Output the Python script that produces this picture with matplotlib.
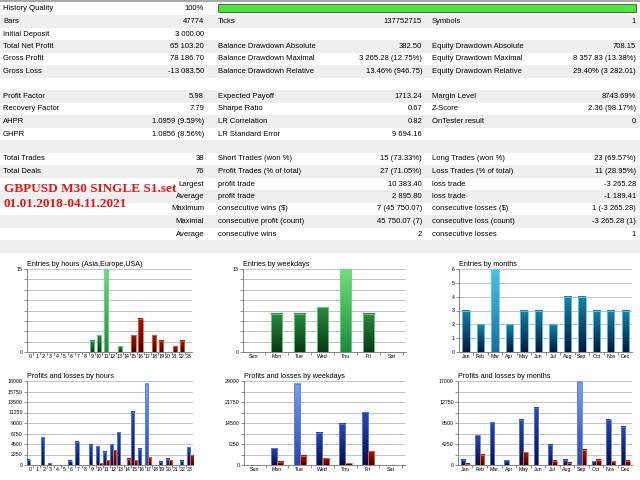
import numpy as np
import matplotlib
matplotlib.use("Agg")
import matplotlib.pyplot as plt
from matplotlib.patches import Rectangle
from matplotlib.colors import LinearSegmentedColormap
from matplotlib.ticker import MultipleLocator, FixedLocator

# ---- report table ----
col1_labels = ["History Quality", "Bars", "Initial Deposit", "Total Net Profit", "Gross Profit",
               "Gross Loss", "", "Profit Factor", "Recovery Factor", "AHPR", "GHPR", "",
               "Total Trades", "Total Deals", "", "", "", "", "", ""]
col1_values = ["100%", "47774", "3 000.00", "65 103.20", "78 186.70", "-13 083.50", "", "5.98",
               "7.79", "1.0959 (9.59%)", "1.0856 (8.56%)", "", "38", "76", "Largest", "Average",
               "Maximum", "Maximal", "Average", ""]
col2_labels = ["", "Ticks", "", "Balance Drawdown Absolute", "Balance Drawdown Maximal",
               "Balance Drawdown Relative", "", "Expected Payoff", "Sharpe Ratio", "LR Correlation",
               "LR Standard Error", "", "Short Trades (won %)", "Profit Trades (% of total)",
               "profit trade", "profit trade", "consecutive wins ($)", "consecutive profit (count)",
               "consecutive wins", ""]
col2_values = ["", "137752715", "", "382.50", "3 265.28 (12.75%)", "13.46% (946.75)", "", "1713.24",
               "0.67", "0.82", "9 694.16", "", "15 (73.33%)", "27 (71.05%)", "10 383.40", "2 895.80",
               "7 (45 750.07)", "45 750.07 (7)", "2", ""]
col3_labels = ["", "Symbols", "", "Equity Drawdown Absolute", "Equity Drawdown Maximal",
               "Equity Drawdown Relative", "", "Margin Level", "Z-Score", "OnTester result", "", "",
               "Long Trades (won %)", "Loss Trades (% of total)", "loss trade", "loss trade",
               "consecutive losses ($)", "consecutive loss (count)", "consecutive losses", ""]
col3_values = ["", "1", "", "708.15", "8 357.83 (13.38%)", "29.40% (3 282.01)", "", "8743.69%",
               "2.36 (98.17%)", "0", "", "", "23 (69.57%)", "11 (28.95%)", "-3 265.28", "-1 189.41",
               "1 (-3 265.28)", "-3 265.28 (1)", "1", ""]
history_quality = 100

overlay_lines = ["GBPUSD M30 SINGLE S1.set", "01.01.2018-04.11.2021"]

# ---- charts ----
hours = [str(h) for h in range(24)]
weekdays = ["Sun", "Mon", "Tue", "Wed", "Thu", "Fri", "Sat"]
months = ["Jan", "Feb", "Mar", "Apr", "May", "Jun", "Jul", "Aug", "Sep", "Oct", "Nov", "Dec"]

entries_hours_eu = [0, 0, 0, 0, 0, 0, 0, 0, 0, 2, 3, 15, 0, 1, 0, 0, 0, 0, 0, 0, 0, 0, 0, 0]
entries_hours_us = [0, 0, 0, 0, 0, 0, 0, 0, 0, 0, 0, 0, 0, 0, 0, 3, 6, 0, 3, 2, 0, 1, 2, 0]
entries_weekdays = [0, 6, 6, 7, 13, 6, 0]
entries_months = [3, 2, 6, 2, 3, 3, 2, 4, 4, 3, 3, 3]

profit_hours = [1100, 0, 5930, 360, 0, 0, 860, 4930, 0, 4290, 4070, 2860, 4500, 7000, 0, 11430,
                3500, 17360, 0, 710, 1290, 0, 930, 3790]
loss_hours = [0, 0, 0, 0, 0, 0, 0, 0, 0, 0, 360, 1000, 3140, 0, 1290, 1000, 0, 1640, 0, 0, 1070,
              0, 0, 2070]
profit_weekdays = [0, 5800, 28070, 11140, 14270, 18210, 0]
loss_weekdays = [0, 1160, 3130, 2320, 580, 4760, 0]
profit_months = [1090, 6050, 8700, 950, 9110, 11560, 4080, 1090, 16860, 750, 9180, 7750]
loss_months = [270, 2040, 0, 0, 2580, 0, 820, 410, 3130, 1090, 750, 820]

W, H = 640, 480
plt.rcParams['font.family'] = ['Liberation Sans', 'DejaVu Sans']
fig = plt.figure(figsize=(6.4, 4.8), dpi=100)
fig.patch.set_facecolor('white')

bg = fig.add_axes([0, 0, 1, 1])
bg.set_xlim(0, W)
bg.set_ylim(H, 0)
bg.axis('off')

row_h = 12.5
row0 = 2.75
bg.add_patch(Rectangle((0, 0), W, 1.6, fc='#a8a8a8', ec='none'))
for i in range(len(col1_labels)):
    if i % 2 == 1:
        bg.add_patch(Rectangle((0, row0 + i * row_h), W, row_h, fc='#efefef', ec='none'))
    yc = row0 + i * row_h + row_h / 2
    fs = 5.5
    bg.text(3, yc, col1_labels[i], fontsize=fs, ha='left', va='center')
    bg.text(204, yc, col1_values[i], fontsize=fs, ha='right', va='center')
    bg.text(218, yc, col2_labels[i], fontsize=fs, ha='left', va='center')
    bg.text(422, yc, col2_values[i], fontsize=fs, ha='right', va='center')
    bg.text(432, yc, col3_labels[i], fontsize=fs, ha='left', va='center')
    bg.text(636, yc, col3_values[i], fontsize=fs, ha='right', va='center')

# history quality bar
bg.add_patch(Rectangle((218, 4), 418 * history_quality / 100, 8, fc='#4ce63c', ec='#4a4a4a', lw=0.6))

for k, line in enumerate(overlay_lines):
    bg.text(4, 189 + k * 15, line, fontsize=9.5, color='#ee1111', fontweight='bold',
            family='Liberation Serif', ha='left', va='center')


def px_axes(left, top, right, bottom):
    return fig.add_axes([left / W, 1 - bottom / H, (right - left) / W, (bottom - top) / H])


def grad_bars(ax, x, h, w, dark, light, edge, hi=None):
    bars = ax.bar(x, h, w, color=dark, edgecolor='none', zorder=3)
    grad = np.linspace(0, 1, 64).reshape(-1, 1)
    cm = LinearSegmentedColormap.from_list('g', [dark, light])
    cm_hi = LinearSegmentedColormap.from_list('gh', hi) if hi else cm
    top = max(h)
    for p, v in zip(bars, h):
        if v <= 0:
            continue
        c = cm_hi if v == top else cm
        ax.imshow(grad, extent=(p.get_x(), p.get_x() + p.get_width(), 0, p.get_height()),
                  origin='lower', cmap=c, aspect='auto', zorder=3.5)
        ax.add_patch(Rectangle(p.get_xy(), p.get_width(), p.get_height(), fill=False,
                               ec=edge, lw=0.6, zorder=4))
    return bars


def style(ax, title, labels, xlim, ymax, major, minor):
    ax.set_xlim(*xlim)
    ax.set_ylim(0, ymax)
    ax.set_xticks(range(len(labels)))
    ax.set_xticklabels(labels, fontsize=3.8)
    ax.xaxis.set_minor_locator(FixedLocator(np.arange(len(labels) + 1) - 0.5))
    ax.yaxis.set_major_locator(FixedLocator(major))
    ax.yaxis.set_minor_locator(MultipleLocator(minor))
    ax.tick_params(axis='y', which='both', labelsize=3.8, length=2, width=0.5, color='#606060', pad=1)
    ax.tick_params(axis='x', which='major', length=0, pad=1.5)
    ax.tick_params(axis='x', which='minor', length=2, width=0.5, color='#606060')
    ax.grid(True, axis='y', which='both', color='#b8b8b8', lw=0.6, zorder=0)
    ax.set_axisbelow(True)
    for s in ('top', 'right'):
        ax.spines[s].set_visible(False)
    for s in ('left', 'bottom'):
        ax.spines[s].set_color('#707070')
        ax.spines[s].set_linewidth(0.6)
    ax.set_title(title, loc='left', fontsize=5.2, pad=2.5)


green = ('#073a12', '#2b8a42', '#72d48c', ['#1f8a3a', '#6fe07a'])
red = ('#3e0400', '#a01c08', '#ff5a3a')
teal = ('#05183a', '#1a82aa', '#5ad0f0', ['#1a6fa0', '#4fc0e8'])
blue = ('#050f48', '#2848b8', '#5a80e8', ['#2448b0', '#7aa0f0'])

# entries by hours
ax = px_axes(27, 269, 192, 352)
xh = np.arange(24)
grad_bars(ax, xh, entries_hours_eu, 0.6, green[0], green[1], green[2], green[3])
grad_bars(ax, xh, entries_hours_us, 0.6, red[0], red[1], red[2])
style(ax, "Entries by hours (Asia,Europe,USA)", hours, (-0.4, 23.45), 15, [0, 15], 15 / 8)

# entries by weekdays
ax = px_axes(243, 269, 406, 352)
xw = np.arange(7)
grad_bars(ax, xw, entries_weekdays, 0.48, green[0], green[1], green[2], green[3])
style(ax, "Entries by weekdays", weekdays, (-0.45, 6.62), 13, [0, 13], 13 / 8)

# entries by months
ax = px_axes(459, 269, 632, 352)
xm = np.arange(12)
grad_bars(ax, xm, entries_months, 0.5, teal[0], teal[1], teal[2], teal[3])
style(ax, "Entries by months", months, (-0.49, 11.46), 6, list(range(7)), 1)

# profits and losses by hours
ax = px_axes(27, 381, 193, 465)
grad_bars(ax, xh - 0.22, profit_hours, 0.44, blue[0], blue[1], blue[2], blue[3])
grad_bars(ax, xh + 0.22, loss_hours, 0.44, red[0], red[1], red[2])
style(ax, "Profits and losses by hours", hours, (-0.4, 23.45), 18000,
      list(range(0, 18001, 2250)), 2250)

# profits and losses by weekdays
ax = px_axes(244, 381, 405, 465)
grad_bars(ax, xw - 0.14, profit_weekdays, 0.27, blue[0], blue[1], blue[2], blue[3])
grad_bars(ax, xw + 0.14, loss_weekdays, 0.27, red[0], red[1], red[2])
style(ax, "Profits and losses by weekdays", weekdays, (-0.45, 6.62), 29000,
      [0, 7250, 14500, 21750, 29000], 3625)

# profits and losses by months
ax = px_axes(458, 381, 632, 465)
grad_bars(ax, xm - 0.15, profit_months, 0.3, blue[0], blue[1], blue[2], blue[3])
grad_bars(ax, xm + 0.15, loss_months, 0.3, red[0], red[1], red[2])
style(ax, "Profits and losses by months", months, (-0.49, 11.46), 17000,
      [0, 4250, 8500, 12750, 17000], 2125)

fig.savefig("out.png", dpi=100)
